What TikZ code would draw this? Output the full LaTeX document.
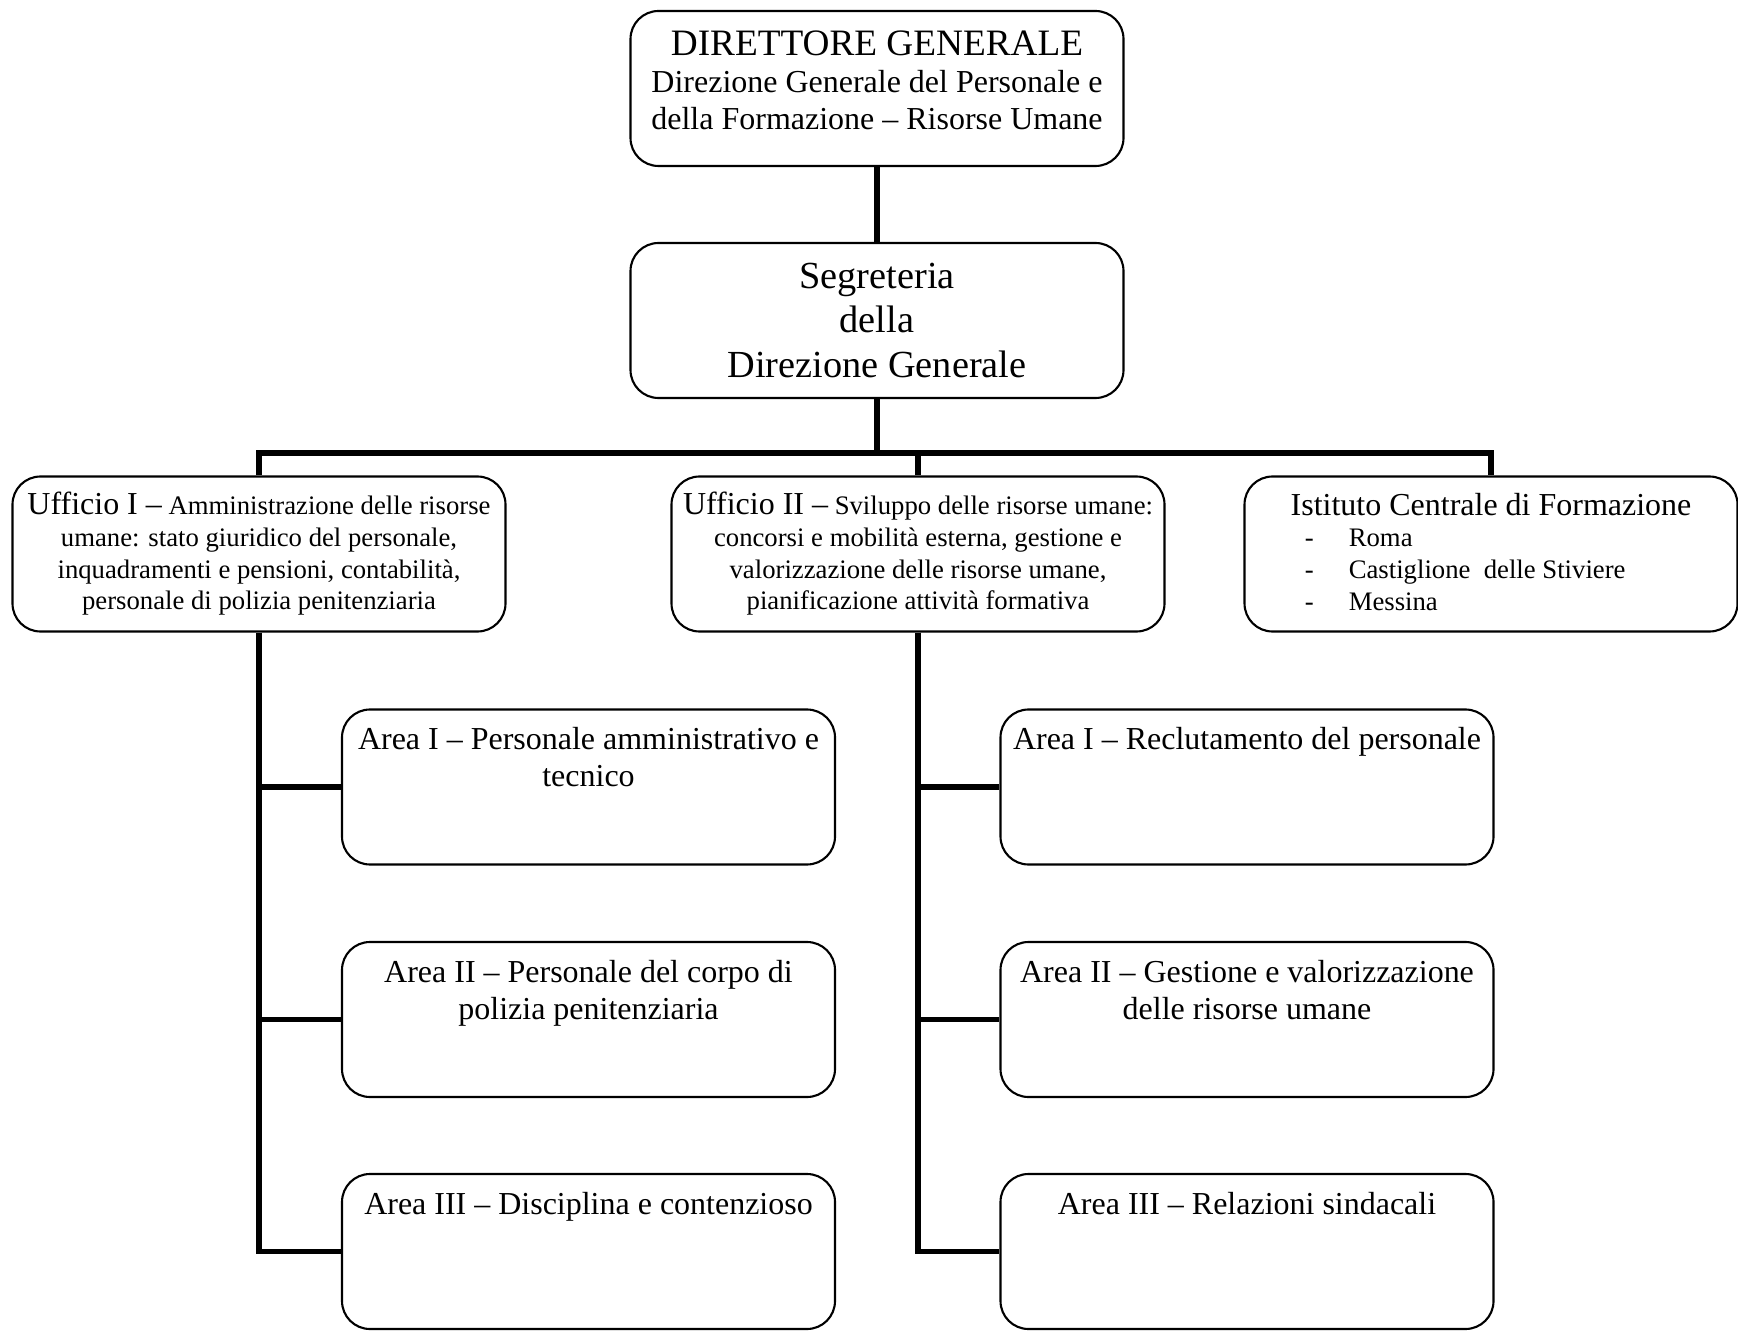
\documentclass[tikz,border=0pt]{standalone}
\usepackage{fontspec}
\setmainfont{Liberation Serif}
\usepackage{tikz}
\usetikzlibrary{arrows,shapes}

\newcommand{\bigtext}{\fontsize{10.6}{12.4}\selectfont}
\newcommand{\midtext}{\fontsize{9.1}{10.6}\selectfont}
\newcommand{\smalltext}{\fontsize{7.6}{9}\selectfont}

\begin{document}
\begin{tikzpicture}[node distance=2.cm,line join=miter]

  \tikzstyle{box}=[rectangle,rounded corners=0.28cm,draw=black,line width=0.6pt,
                   minimum width=4.93cm,minimum height=1.55cm,inner sep=0pt,align=center]
  \tikzstyle{areatext}=[anchor=north,inner sep=0pt,yshift=-5.2pt,align=center,font=\midtext]
  \tikzstyle{link}=[line width=1.7pt]

  \useasboundingbox (0,0) rectangle (17.38,13.30);

  % vertice
  \path  (8.77,12.415) node[box,font=\midtext] (dg)
           {{\bigtext DIRETTORE GENERALE}\\Direzione Generale del Personale e\\della Formazione – Risorse Umane\rule[-4.7pt]{0pt}{4.7pt}}
       ++(0,-2.32)     node[box,font=\fontsize{10.9}{12.6}\selectfont] (seg)
           {Segreteria\\della\\Direzione Generale};

  % uffici
  \path  (2.59,7.76)   node[box,font=\smalltext] (uff1)
           {{\midtext Ufficio I –} Amministrazione delle risorse\\umane: stato giuridico del personale,\\inquadramenti e pensioni, contabilità,\\personale di polizia penitenziaria}
         (9.18,7.76)   node[box,font=\smalltext] (uff2)
           {{\midtext Ufficio II –} Sviluppo delle risorse umane:\\concorsi e mobilità esterna, gestione e\\valorizzazione delle risorse umane,\\pianificazione attività formativa}
         (14.91,7.76)  node[box,align=left,font=\smalltext] (icf)
           {{\midtext Istituto Centrale di Formazione}\\
            \hspace*{4pt}-\hspace*{10pt}Roma\\
            \hspace*{4pt}-\hspace*{10pt}Castiglione\ \ delle Stiviere\\
            \hspace*{4pt}-\hspace*{10pt}Messina\rule[-1.4pt]{0pt}{1.4pt}};

  % aree
  \path  (5.885,5.43)  node[box,label={[areatext]north:{Area I – Personale amministrativo e\\tecnico}}] (a11) {}
       ++(0,-2.325)    node[box,label={[areatext]north:{Area II – Personale del corpo di\\polizia penitenziaria}}] (a12) {}
       ++(0,-2.32)     node[box,label={[areatext]north:{Area III – Disciplina e contenzioso}}] (a13) {};
  \path  (12.47,5.43)  node[box,label={[areatext]north:{Area I – Reclutamento del personale}}] (a21) {}
       ++(0,-2.325)    node[box,label={[areatext]north:{Area II – Gestione e valorizzazione\\delle risorse umane}}] (a22) {}
       ++(0,-2.32)     node[box,label={[areatext]north:{Area III – Relazioni sindacali}}] (a23) {};

  % collegamenti
  \coordinate (bar) at ([yshift=-0.54cm]seg.south);
  \draw[link] (dg) -- (seg);
  \draw[link] (seg) -- (bar);
  \draw[link] (uff1.north) |- (bar) -| (icf.north);
  \draw[link] (uff2.north) -- (uff2.north |- bar);
  \foreach \n in {a11,a12,a13} \draw[link] (uff1.south) |- (\n.west);
  \foreach \n in {a21,a22,a23} \draw[link] (uff2.south) |- (\n.west);

\end{tikzpicture}
\end{document}
